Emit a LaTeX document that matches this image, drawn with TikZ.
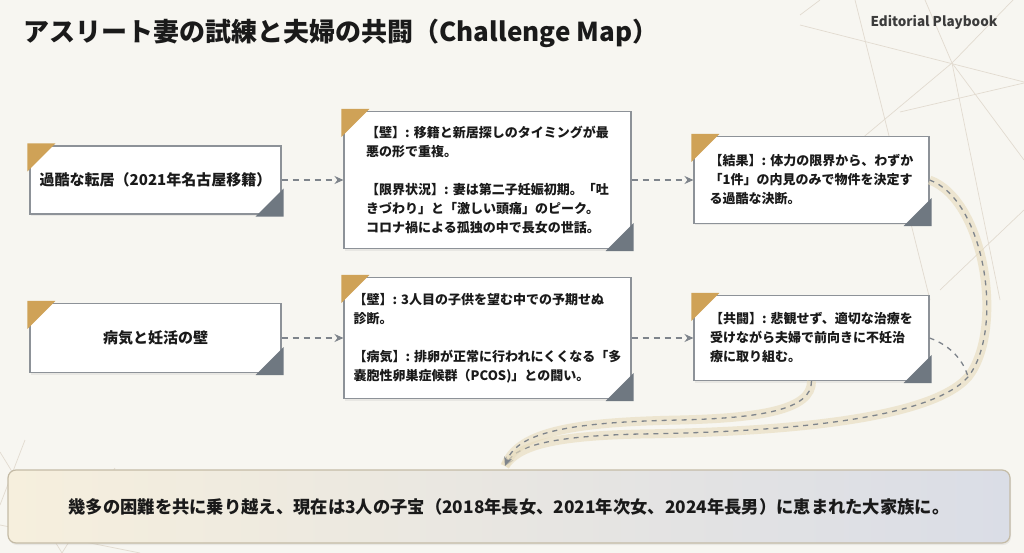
\documentclass[tikz,border=0pt]{standalone}
\usepackage{fontspec}
\setmainfont{Noto Sans CJK JP}
\usetikzlibrary{arrows.meta,shadows}
\definecolor{bgc}{HTML}{F7F6F1}
\definecolor{deco}{HTML}{E2DBD0}
\definecolor{goldc}{HTML}{CFA257}
\definecolor{grayc}{HTML}{6F7881}
\definecolor{bordc}{HTML}{8D9298}
\definecolor{arrc}{HTML}{7E848B}
\definecolor{txt}{HTML}{1A1A1A}
\definecolor{glowc}{HTML}{E8DDBF}
\definecolor{finL}{HTML}{F6EFDD}
\definecolor{finR}{HTML}{DADDE6}
\definecolor{finB}{HTML}{C4BBA6}
\newcommand\cardcorners[1]{%
  \fill[goldc] ([shift={(-2,-2)}]#1.north west) -- ++(28,0) -- ++(-28,28) -- cycle;
  \fill[grayc] ([shift={(2,2)}]#1.south east) -- ++(0,-28) -- ++(-28,28) -- cycle;}
\begin{document}
\begin{tikzpicture}[x=1pt,y=-1pt,
  card/.style={draw=bordc, line width=1.1pt, fill=white,
    drop shadow={opacity=0.12, shadow xshift=1pt, shadow yshift=-2pt},
    align=left, text=txt, inner sep=0pt,
    font=\bfseries\fontsize{13}{19}\selectfont},
  headcard/.style={card, font=\bfseries\fontsize{15}{19}\selectfont},
  flow/.style={draw=arrc, line width=1.2pt, dash pattern=on 6pt off 5pt,
    -{Stealth[length=9pt,width=8pt]}},
  curvy/.style={draw=arrc, line width=1.3pt, dash pattern=on 5pt off 5pt},
  glow/.style={preaction={draw=glowc, line width=9pt, opacity=0.65, solid, -}},
  decoline/.style={draw=deco, line width=0.7pt}]
\useasboundingbox (0,0) rectangle (1024,553);
\fill[bgc] (0,0) rectangle (1024,553);
% decorative background lines
\draw[decoline] (800,25) -- (1024,82);
\draw[decoline] (800,15) -- (820,0);
\draw[decoline] (855,0) -- (930,300);
\draw[decoline] (925,0) -- (952,63) -- (1024,160);
\draw[decoline] (1013,0) -- (952,63) -- (860,140);
\draw[decoline] (1024,83) -- (900,112);
\draw[decoline] (952,63) -- (1000,300);
\draw[decoline] (1024,210) -- (940,290);
\draw[decoline] (0,452) -- (62,553);
\draw[decoline] (25,440) -- (0,505);
\draw[decoline] (62,553) -- (115,468);
\draw[decoline] (0,525) -- (140,553);
% title
\node[anchor=west, text=txt, font=\bfseries\fontsize{26}{30}\selectfont] (title) at (20,33)
  {アスリート妻の試練と夫婦の共闘（Challenge Map）};
\node[anchor=east, text=txt!85, font=\bfseries\fontsize{13.5}{16}\selectfont] (brand) at (1001,22)
  {Editorial Playbook};
% row 1
\node[headcard, minimum width=251pt, minimum height=68pt] (A1) at (155.5,180)
  {過酷な転居（2021年名古屋移籍）};
\node[card, minimum width=287pt, minimum height=137pt] (A2) at (487.5,180)
  {【壁】: 移籍と新居探しのタイミングが最\\悪の形で重複。\\[19pt]
   【限界状況】: 妻は第二子妊娠初期。「吐\\きづわり」と「激しい頭痛」のピーク。\\
   コロナ禍による孤独の中で長女の世話。};
\node[card, minimum width=235pt, minimum height=87pt] (A3) at (811.5,180)
  {【結果】: 体力の限界から、わずか\\「1件」の内見のみで物件を決定す\\る過酷な決断。};
% row 2
\node[headcard, minimum width=251pt, minimum height=69pt] (B1) at (155.5,338)
  {病気と妊活の壁};
\node[card, minimum width=287pt, minimum height=121pt] (B2) at (487.5,338)
  {【壁】: 3人目の子供を望む中での予期せぬ\\診断。\\[19pt]
   【病気】: 排卵が正常に行われにくくなる「多\\嚢胞性卵巣症候群（PCOS)」との闘い。};
\node[card, minimum width=235pt, minimum height=85pt] (B3) at (811.5,338)
  {【共闘】: 悲観せず、適切な治療を\\受けながら夫婦で前向きに不妊治\\療に取り組む。};
\foreach \n in {A1,A2,A3,B1,B2,B3} {\cardcorners{\n}}
% final box
\node[draw=finB, line width=1.2pt, rounded corners=8pt, left color=finL, right color=finR,
  minimum width=1002pt, minimum height=73pt, text=txt,
  drop shadow={opacity=0.12, shadow xshift=1pt, shadow yshift=-2pt},
  font=\bfseries\fontsize{17.3}{20}\selectfont] (F) at (509,506.5)
  {幾多の困難を共に乗り越え、現在は3人の子宝（2018年長女、2021年次女、2024年長男）に恵まれた大家族に。};
% straight connectors
\draw[flow] (A1) -- (A2);
\draw[flow] (A2) -- (A3);
\draw[flow] (B1) -- (B2);
\draw[flow] (B2) -- (B3);
% curved connectors to the final box
\coordinate (j) at (968,377);
\coordinate (m1) at (640,434);
\coordinate (m2) at (680,420);
\coordinate (tip) at (505,466);
\draw[curvy, glow, -{Stealth[length=9pt,width=8pt]}] (A3.east)
  .. controls (985,200) and (1005,330) .. (j)
  .. controls (930,420) and (780,432) .. (m1)
  .. controls (555,436) and (518,445) .. (tip);
\draw[curvy] (B3.east) .. controls (952,346) and (964,362) .. (j);
\draw[curvy, glow, -{Stealth[length=9pt,width=8pt]}] (B3.south)
  .. controls (812,410) and (760,418) .. (m2)
  .. controls (580,422) and (518,430) .. (tip);
\end{tikzpicture}
\end{document}
